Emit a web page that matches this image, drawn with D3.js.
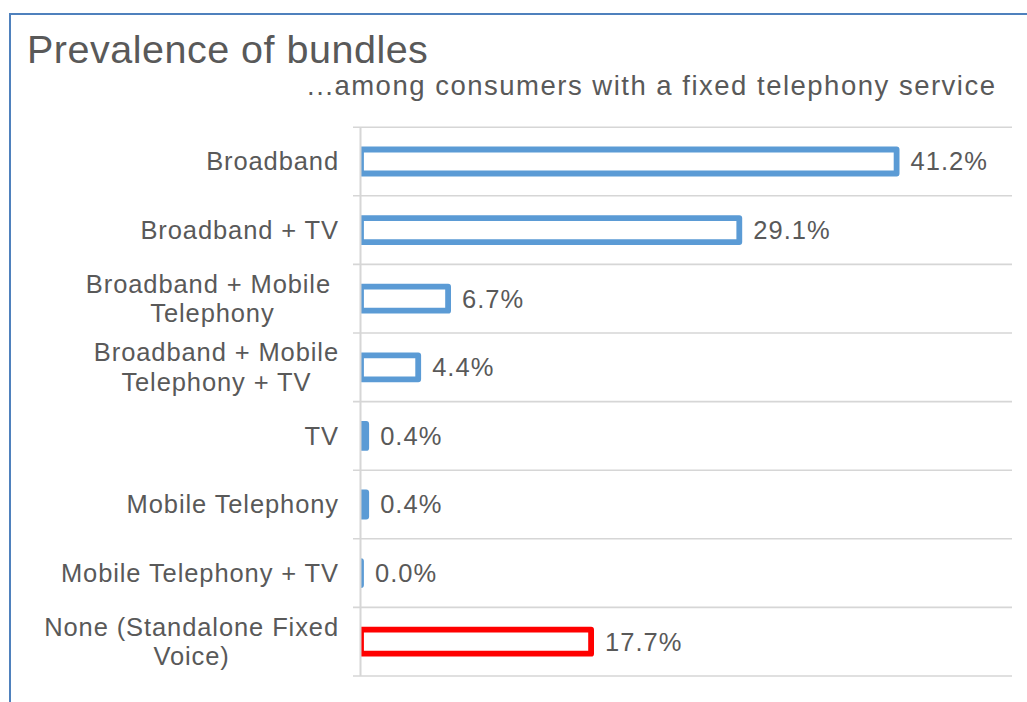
<!DOCTYPE html>
<html>
<head>
<meta charset="utf-8">
<script src="https://cdn.jsdelivr.net/npm/d3@7"></script>
<style>
  html, body { margin: 0; padding: 0; background: #ffffff; }
  svg { display: block; font-family: "Liberation Sans", Arial, sans-serif; }
  text { white-space: pre; }
</style>
</head>
<body>
<svg id="chart" width="1027" height="702"></svg>
<script>
// Bundle categories (line breaks mark where each label wraps)
const categories = [
  "Broadband",
  "Broadband + TV",
  "Broadband + Mobile \nTelephony",
  "Broadband + Mobile\nTelephony + TV",
  "TV",
  "Mobile Telephony",
  "Mobile Telephony + TV",
  "None (Standalone Fixed\nVoice)"
];
// Share of fixed-telephony consumers, percent
const shares = [41.2, 29.1, 6.7, 4.4, 0.4, 0.4, 0.0, 17.7];
// Which bar is highlighted (standalone fixed voice)
const highlighted = [false, false, false, false, false, false, false, true];

const title = "Prevalence of bundles";
const subtitle = "...among consumers with a fixed telephony service";

const W = 1027, H = 702;
const plot = { left: 361, right: 1011, top: 127.2, bottom: 676 };
const textColor = "#595959";
const blue = "#5B9BD5", red = "#FF0000";

const svg = d3.select("#chart");

// Chart frame
svg.append("path")
  .attr("d", `M10,${H} L10,14 L${W},14`)
  .attr("fill", "none")
  .attr("stroke", "#4F81BD")
  .attr("stroke-width", 2);

// Titles
svg.append("text")
  .attr("x", 27).attr("y", 63)
  .attr("font-size", 39.5)
  .attr("letter-spacing", 0.5)
  .attr("fill", textColor)
  .text(title);

svg.append("text")
  .attr("x", 996.5).attr("y", 95)
  .attr("text-anchor", "end")
  .attr("font-size", 27.5)
  .attr("letter-spacing", 1.5)
  .attr("fill", textColor)
  .text(subtitle);

// Scales
const x = d3.scaleLinear().domain([0, 50]).range([plot.left, plot.right]);
const y = d3.scaleBand().domain(d3.range(categories.length)).range([plot.top, plot.bottom]);

// Horizontal gridlines at band boundaries
const bounds = d3.range(categories.length + 1).map(i => plot.top + i * y.step());
svg.append("g").selectAll("line")
  .data(bounds)
  .join("line")
  .attr("x1", plot.left - 8).attr("x2", plot.right + 1)
  .attr("y1", d => d).attr("y2", d => d)
  .attr("stroke", "#d6d6d6")
  .attr("stroke-width", 1.6);

// Bars, clipped to the plot area so the border starts at the axis
svg.append("clipPath").attr("id", "plotClip")
  .append("rect")
  .attr("x", plot.left).attr("y", plot.top)
  .attr("width", plot.right - plot.left).attr("height", plot.bottom - plot.top);

const barH = 24;
// Bars are drawn as closed paths so a zero-width bar still shows its outline
svg.append("g").attr("clip-path", "url(#plotClip)")
  .selectAll("path")
  .data(shares)
  .join("path")
  .attr("d", (d, i) => {
    const x0 = x(0), x1 = x(d);
    const y0 = y(i) + y.bandwidth() / 2 - barH / 2;
    return `M${x0},${y0}H${x1}V${y0 + barH}H${x0}Z`;
  })
  .attr("fill", "#ffffff")
  .attr("stroke", (d, i) => highlighted[i] ? red : blue)
  .attr("stroke-width", 5.8)
  .attr("stroke-linejoin", "round");

// Category axis line
svg.append("line")
  .attr("x1", plot.left - 0.5).attr("x2", plot.left - 0.5)
  .attr("y1", plot.top).attr("y2", plot.bottom)
  .attr("stroke", "#d6d6d6")
  .attr("stroke-width", 2);

// Value labels
const fs = 25.5;
svg.append("g").selectAll("text")
  .data(shares)
  .join("text")
  .attr("x", d => x(d) + 14)
  .attr("y", (d, i) => y(i) + y.bandwidth() / 2 + 0.35 * fs)
  .attr("font-size", fs)
  .attr("letter-spacing", 1)
  .attr("fill", textColor)
  .text(d => d.toFixed(1) + "%");

// Category labels: each block right-aligned at the axis, lines centred within it
const labelRight = 339;
const lineH = 29.5;
const labels = svg.append("g");
categories.forEach((cat, i) => {
  const lines = cat.split("\n");
  const cy = y(i) + y.bandwidth() / 2;
  const g = labels.append("g");
  const texts = lines.map((ln, j) => g.append("text")
    .attr("y", cy + 0.35 * fs + (j - (lines.length - 1) / 2) * lineH)
    .attr("font-size", fs)
    .attr("letter-spacing", 0.9)
    .attr("fill", textColor)
    .attr("text-anchor", "middle")
    .text(ln));
  const maxW = d3.max(texts, t => t.node().getComputedTextLength());
  texts.forEach(t => t.attr("x", labelRight - maxW / 2));
});
</script>
</body>
</html>
